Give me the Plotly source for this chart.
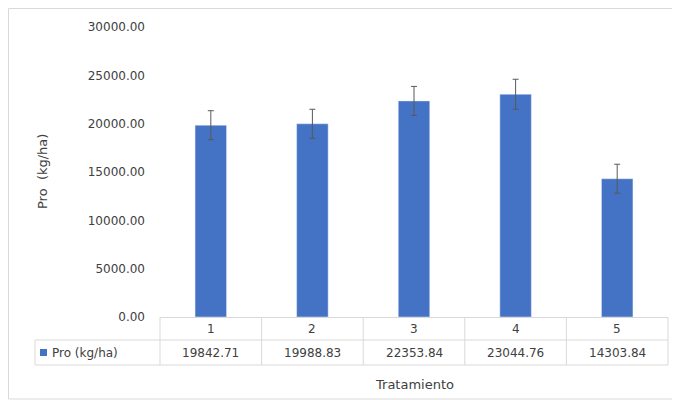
import plotly.graph_objects as go

categories = ["1", "2", "3", "4", "5"]
values = [19842.71, 19988.83, 22353.84, 23044.76, 14303.84]
errors = [1500, 1500, 1500, 1550, 1500]
series_name = "Pro (kg/ha)"
blue = "#4472C4"
grid = "#d9d9d9"
font = dict(family="DejaVu Sans", size=12, color="#404040")

# the page puts the figure 8px in from the top-left corner
OFF = 8
W, H = 680, 400
L, R, T, B = 152, 20, 19, 91
pw, ph = W - L - R, H - T - B

def px(x):  # screen pixel -> paper x
    return (x - OFF - L) / pw

def py(y):  # screen pixel -> paper y
    return (H - B - (y - OFF)) / ph

fig = go.Figure(go.Bar(
    x=categories, y=values, width=0.31, marker_color=blue, name=series_name,
    error_y=dict(type="data", array=errors, color="#595959", thickness=1, width=3),
))

shapes = []
line = dict(color=grid, width=1)
for y in (340, 365):
    shapes.append(dict(type="line", xref="paper", yref="paper",
                       x0=px(35), x1=1, y0=py(y), y1=py(y), line=line))
for k in range(len(categories) + 1):
    shapes.append(dict(type="line", xref="paper", yref="paper",
                       x0=k / len(categories), x1=k / len(categories),
                       y0=0, y1=py(365), line=line))
shapes.append(dict(type="line", xref="paper", yref="paper",
                   x0=px(35), x1=px(35), y0=py(340), y1=py(365), line=line))
shapes.append(dict(type="rect", xref="paper", yref="paper",
                   x0=px(40), x1=px(47), y0=py(356), y1=py(349),
                   fillcolor=blue, line=dict(width=0)))
shapes.append(dict(type="rect", xref="paper", yref="paper",
                   x0=px(8.5), x1=px(677), y0=py(399), y1=py(8.5),
                   line=dict(color=grid, width=1)))

ann = []
n = len(categories)
for i, (c, v) in enumerate(zip(categories, values)):
    xc = (i + 0.5) / n
    ann.append(dict(x=xc, y=py(329), xref="paper", yref="paper", text=c,
                    showarrow=False, xanchor="center", yanchor="middle", font=font))
    ann.append(dict(x=xc, y=py(353), xref="paper", yref="paper", text=f"{v:.2f}",
                    showarrow=False, xanchor="center", yanchor="middle", font=font))
ann.append(dict(x=px(50), y=py(353), xref="paper", yref="paper", text=series_name,
                showarrow=False, xanchor="left", yanchor="middle", font=font))
ann.append(dict(x=px(414), y=py(384), xref="paper", yref="paper", text="Tratamiento",
                showarrow=False, xanchor="center", yanchor="middle",
                font=dict(family="DejaVu Sans", size=13, color="#404040")))
ann.append(dict(x=px(42), y=py(172), xref="paper", yref="paper", text="Pro  (kg/ha)",
                showarrow=False, textangle=-90, xanchor="center", yanchor="middle",
                font=dict(family="DejaVu Sans", size=13, color="#404040")))

fig.update_layout(
    width=W, height=H, margin=dict(l=L, r=R, t=T, b=B, autoexpand=False),
    paper_bgcolor="white", plot_bgcolor="white", showlegend=False,
    font=font, shapes=shapes, annotations=ann,
)
fig.update_xaxes(showticklabels=False, showline=True, linecolor=grid, ticks="")
fig.update_yaxes(range=[0, 30000], dtick=5000, tickformat=".2f", showgrid=False,
                 zeroline=False, showline=False, ticks="", ticklabelstandoff=14)
fig.write_html("out.html")
